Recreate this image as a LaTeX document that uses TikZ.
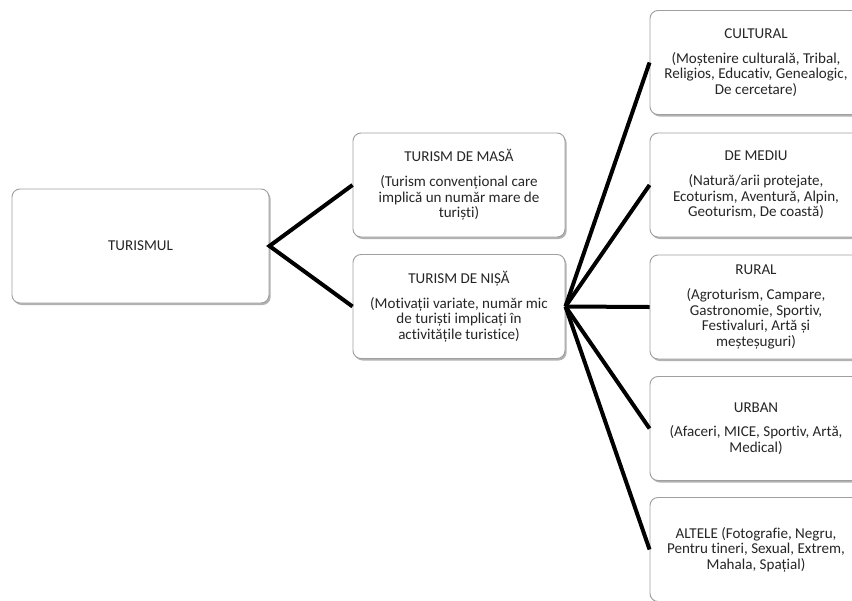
\documentclass[tikz,border=0pt]{standalone}
\usepackage{fontspec}
\setmainfont[Ligatures=NoCommon]{Carlito}
\usetikzlibrary{shadows}
\begin{document}
\begin{tikzpicture}[x=0.75pt,y=-0.75pt,
  box/.style={draw=gray!75, line width=0.7pt, fill=white, rounded corners=6pt,
    minimum width=159pt, minimum height=78pt, inner sep=0pt, align=center,
    text=black!85, font=\fontsize{11.3}{11.6}\selectfont,
    drop shadow={shadow xshift=1.2pt, shadow yshift=-1.5pt, fill=black, opacity=0.3}},
  conn/.style={line width=3pt, black}]
\useasboundingbox (0,0) rectangle (852,600);
\clip (0,0) rectangle (852,600);
\fill[white] (0,0) rectangle (852,600);
\node[box, minimum width=192.75pt, minimum height=85.5pt] (tur) at (140.5,246) {TURISMUL};
\node[box] (masa) at (459,185) {TURISM DE MASĂ\\[7pt](Turism convențional care\\implică un număr mare de\\turiști)};
\node[box] (nisa) at (459,306.5) {TURISM DE NIȘĂ\\[7pt](Motivații variate, număr mic\\de turiști implicați în\\activitățile turistice)};
\node[box] (cult) at (756,62.5) {CULTURAL\\[7pt](Moștenire culturală, Tribal,\\Religios, Educativ, Genealogic,\\De cercetare)};
\node[box] (mediu) at (756,185) {DE MEDIU\\[7pt](Natură/arii protejate,\\Ecoturism, Aventură, Alpin,\\Geoturism, De coastă)};
\node[box] (rural) at (756,307) {RURAL\\[7pt](Agroturism, Campare,\\Gastronomie, Sportiv,\\Festivaluri, Artă și\\meșteșuguri)};
\node[box] (urban) at (756,428.5) {URBAN\\[7pt](Afaceri, MICE, Sportiv, Artă,\\Medical)};
\node[box] (altele) at (756,549.5) {ALTELE (Fotografie, Negru,\\Pentru tineri, Sexual, Extrem,\\Mahala, Spațial)};
\draw[conn] (masa.west) -- (tur.east) -- (nisa.west);
\draw[conn] (nisa.east) -- (cult.west);
\draw[conn] (nisa.east) -- (mediu.west);
\draw[conn] (nisa.east) -- (rural.west);
\draw[conn] (nisa.east) -- (urban.west);
\draw[conn] (nisa.east) -- (altele.west);
\end{tikzpicture}
\end{document}
